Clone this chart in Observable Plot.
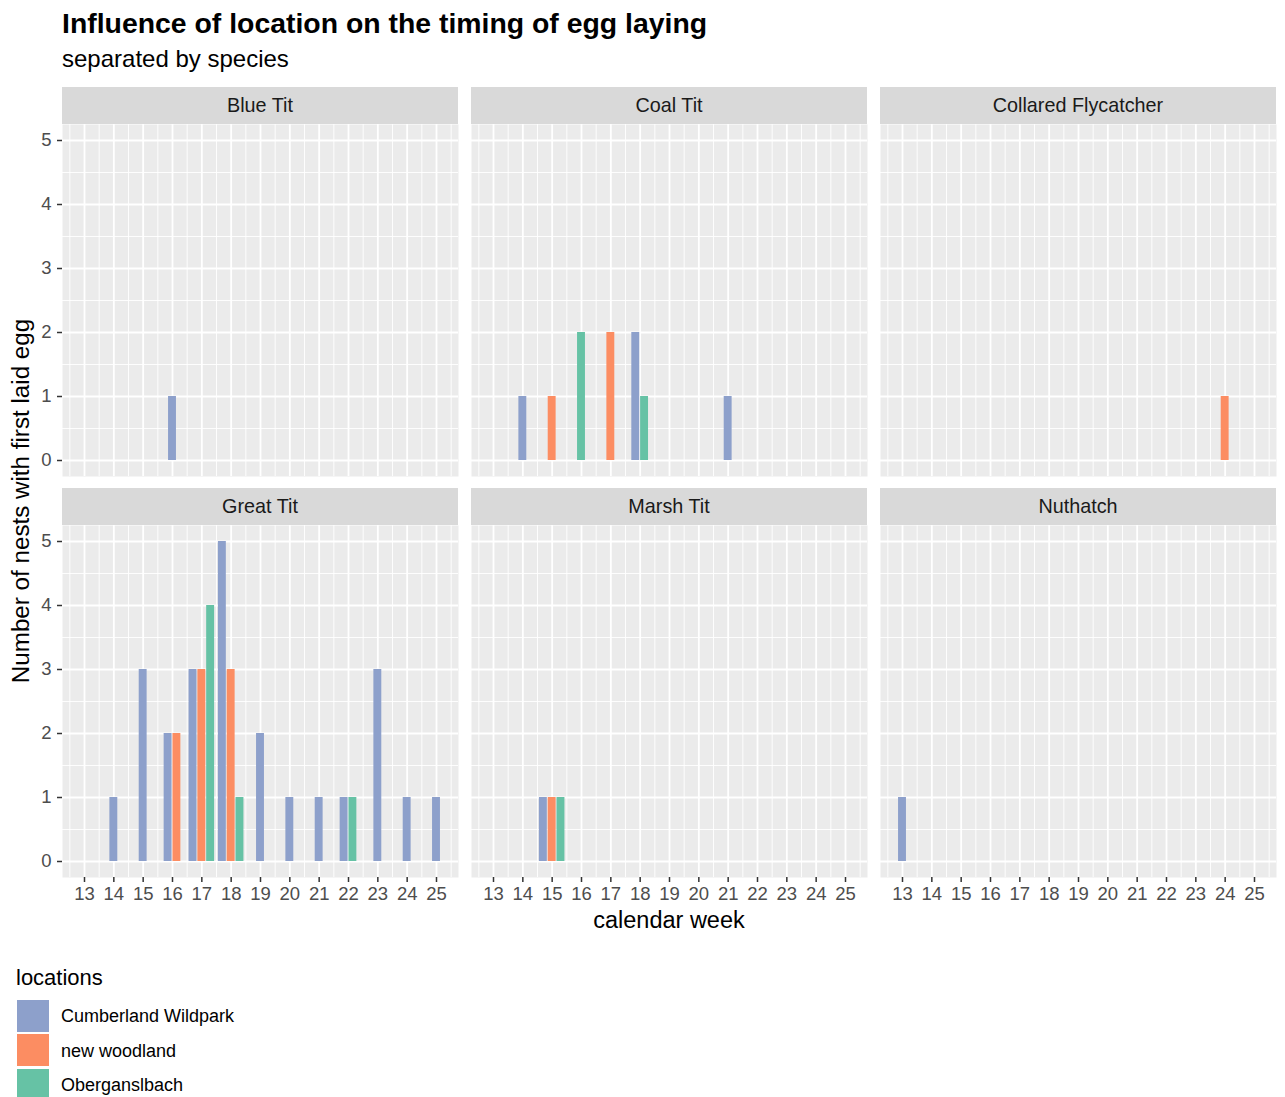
<!DOCTYPE html>
<html>
<head>
<meta charset="utf-8">
<script src="https://cdn.jsdelivr.net/npm/d3@7"></script>
<script src="https://cdn.jsdelivr.net/npm/@observablehq/plot@0.6"></script>
<style>
  html, body { margin: 0; padding: 0; background: #ffffff; }
  #root { position: relative; width: 1285px; height: 1097px; overflow: hidden; font-family: "Liberation Sans", Arial, sans-serif; }
  .abs { position: absolute; white-space: nowrap; line-height: 1; }
  .strip { position: absolute; background: #D9D9D9; color: #1A1A1A; font-size: 19.8px; display: flex; align-items: center; justify-content: center; }
  .panel { position: absolute; }
</style>
</head>
<body>
<div id="root"></div>
<script>
// ---- data ----
const species = ["Blue Tit", "Coal Tit", "Collared Flycatcher", "Great Tit", "Marsh Tit", "Nuthatch"];
const locations = ["Cumberland Wildpark", "new woodland", "Oberganslbach"];
const locationColors = ["#8DA0CB", "#FC8D62", "#66C2A5"];
const weekTicks = [13, 14, 15, 16, 17, 18, 19, 20, 21, 22, 23, 24, 25];
const weekMinor = [12.5, 13.5, 14.5, 15.5, 16.5, 17.5, 18.5, 19.5, 20.5, 21.5, 22.5, 23.5, 24.5, 25.5];
const countTicks = [0, 1, 2, 3, 4, 5];
const countMinor = [0.5, 1.5, 2.5, 3.5, 4.5];

// observations: species, calendar week, location, number of nests
const obsSpecies = [
  "Blue Tit",
  "Coal Tit", "Coal Tit", "Coal Tit", "Coal Tit", "Coal Tit", "Coal Tit", "Coal Tit",
  "Collared Flycatcher",
  "Great Tit", "Great Tit", "Great Tit", "Great Tit", "Great Tit", "Great Tit", "Great Tit",
  "Great Tit", "Great Tit", "Great Tit", "Great Tit", "Great Tit", "Great Tit", "Great Tit",
  "Great Tit", "Great Tit", "Great Tit", "Great Tit",
  "Marsh Tit", "Marsh Tit", "Marsh Tit",
  "Nuthatch"
];
const obsWeek = [
  16,
  14, 15, 16, 17, 18, 18, 21,
  24,
  14, 15, 16, 16, 17, 17, 17,
  18, 18, 18, 19, 20, 21, 22,
  22, 23, 24, 25,
  15, 15, 15,
  13
];
const obsLocation = [
  "Cumberland Wildpark",
  "Cumberland Wildpark", "new woodland", "Oberganslbach", "new woodland", "Cumberland Wildpark", "Oberganslbach", "Cumberland Wildpark",
  "new woodland",
  "Cumberland Wildpark", "Cumberland Wildpark", "Cumberland Wildpark", "new woodland", "Cumberland Wildpark", "new woodland", "Oberganslbach",
  "Cumberland Wildpark", "new woodland", "Oberganslbach", "Cumberland Wildpark", "Cumberland Wildpark", "Cumberland Wildpark", "Cumberland Wildpark",
  "Oberganslbach", "Cumberland Wildpark", "Cumberland Wildpark", "Cumberland Wildpark",
  "Cumberland Wildpark", "new woodland", "Oberganslbach",
  "Cumberland Wildpark"
];
const obsCount = [
  1,
  1, 1, 2, 2, 2, 1, 1,
  1,
  1, 3, 2, 2, 3, 3, 4,
  5, 3, 1, 2, 1, 1, 1,
  1, 3, 1, 1,
  1, 1, 1,
  1
];

// ---- build table with dodge (centred within each week, like position_dodge2 preserve = "single") ----
const slot = 0.3, barW = 0.27;
const rows = obsSpecies.map((s, i) => ({species: s, week: obsWeek[i], location: obsLocation[i], count: obsCount[i]}));
const groups = d3.group(rows, d => d.species + "|" + d.week);
for (const g of groups.values()) {
  g.sort((a, b) => locations.indexOf(a.location) - locations.indexOf(b.location));
  const n = g.length;
  g.forEach((d, i) => {
    const c = d.week + (i - (n - 1) / 2) * slot;
    d.x1 = c - barW / 2;
    d.x2 = c + barW / 2;
  });
}

// ---- layout ----
const root = document.getElementById("root");
const font = '"Liberation Sans", Arial, sans-serif';
const colLeft = [62, 471, 880];
const rowTop = [124, 525];
const panelW = 396, panelH = 352, stripH = 37;

function addText(txt, left, baseline, size, opts = {}) {
  const el = document.createElement("div");
  el.className = "abs";
  el.textContent = txt;
  el.style.fontSize = size + "px";
  el.style.left = left + "px";
  el.style.top = (baseline - 0.8465 * size) + "px";
  el.style.color = opts.color || "#000";
  if (opts.bold) el.style.fontWeight = "bold";
  if (opts.center) el.style.transform = "translateX(-50%)";
  root.appendChild(el);
  return el;
}

addText("Influence of location on the timing of egg laying", 62, 33, 28.4, {bold: true});
addText("separated by species", 62, 67, 24);

species.forEach((sp, k) => {
  const r = Math.floor(k / 3), c = k % 3;
  const ml = c === 0 ? 62 : 0;
  const mb = r === 1 ? 40 : 0;
  const data = rows.filter(d => d.species === sp);

  const strip = document.createElement("div");
  strip.className = "strip";
  strip.style.left = colLeft[c] + "px";
  strip.style.top = (rowTop[r] - stripH) + "px";
  strip.style.width = panelW + "px";
  strip.style.height = stripH + "px";
  strip.textContent = sp;
  root.appendChild(strip);

  const marks = [
    Plot.frame({fill: "#EBEBEB", stroke: null}),
    Plot.ruleX(weekMinor, {stroke: "#FFFFFF", strokeWidth: 0.9}),
    Plot.ruleY(countMinor, {stroke: "#FFFFFF", strokeWidth: 0.9}),
    Plot.ruleX(weekTicks, {stroke: "#FFFFFF", strokeWidth: 1.8}),
    Plot.ruleY(countTicks, {stroke: "#FFFFFF", strokeWidth: 1.8}),
    Plot.rectY(data, {x1: "x1", x2: "x2", y1: 0, y2: "count", fill: "location", inset: 0})
  ];
  if (r === 1) marks.push(Plot.axisX(weekTicks, {tickSize: 5, tickPadding: 4, tickFormat: d => String(d), stroke: "#333333", strokeWidth: 1.5, fill: "#4D4D4D", label: null}));
  if (c === 0) marks.push(Plot.axisY(countTicks, {tickSize: 5, tickPadding: 6, tickFormat: d => String(d), stroke: "#333333", strokeWidth: 1.5, fill: "#4D4D4D", label: null}));

  const chart = Plot.plot({
    width: panelW + ml,
    height: panelH + mb,
    marginLeft: ml, marginRight: 0, marginTop: 0, marginBottom: mb,
    style: {fontFamily: font, fontSize: "18.5px", color: "#4D4D4D", background: "transparent", overflow: "visible"},
    x: {domain: [12.25, 25.75], axis: r === 1 ? undefined : null},
    y: {domain: [-0.25, 5.25], axis: c === 0 ? undefined : null},
    color: {domain: locations, range: locationColors},
    marks
  });
  chart.classList.add("panel");
  chart.style.left = (colLeft[c] - ml) + "px";
  chart.style.top = rowTop[r] + "px";
  root.appendChild(chart);
});

// axis titles
addText("calendar week", 669, 929, 23.5, {center: true});
const yt = document.createElement("div");
yt.className = "abs";
yt.textContent = "Number of nests with first laid egg";
yt.style.fontSize = "24.2px";
yt.style.left = "21px";
yt.style.top = "501px";
yt.style.transform = "translate(-50%, -50%) rotate(-90deg)";
root.appendChild(yt);

// legend
addText("locations", 16, 986, 22);
locations.forEach((loc, i) => {
  const top = 1000 + i * 34.3;
  const key = document.createElement("div");
  key.style.position = "absolute";
  key.style.left = "17px";
  key.style.top = top + "px";
  key.style.width = "32px";
  key.style.height = "32px";
  key.style.background = locationColors[i];
  root.appendChild(key);
  addText(loc, 61, top + 16 + 6.5, 18);
});
</script>
</body>
</html>
